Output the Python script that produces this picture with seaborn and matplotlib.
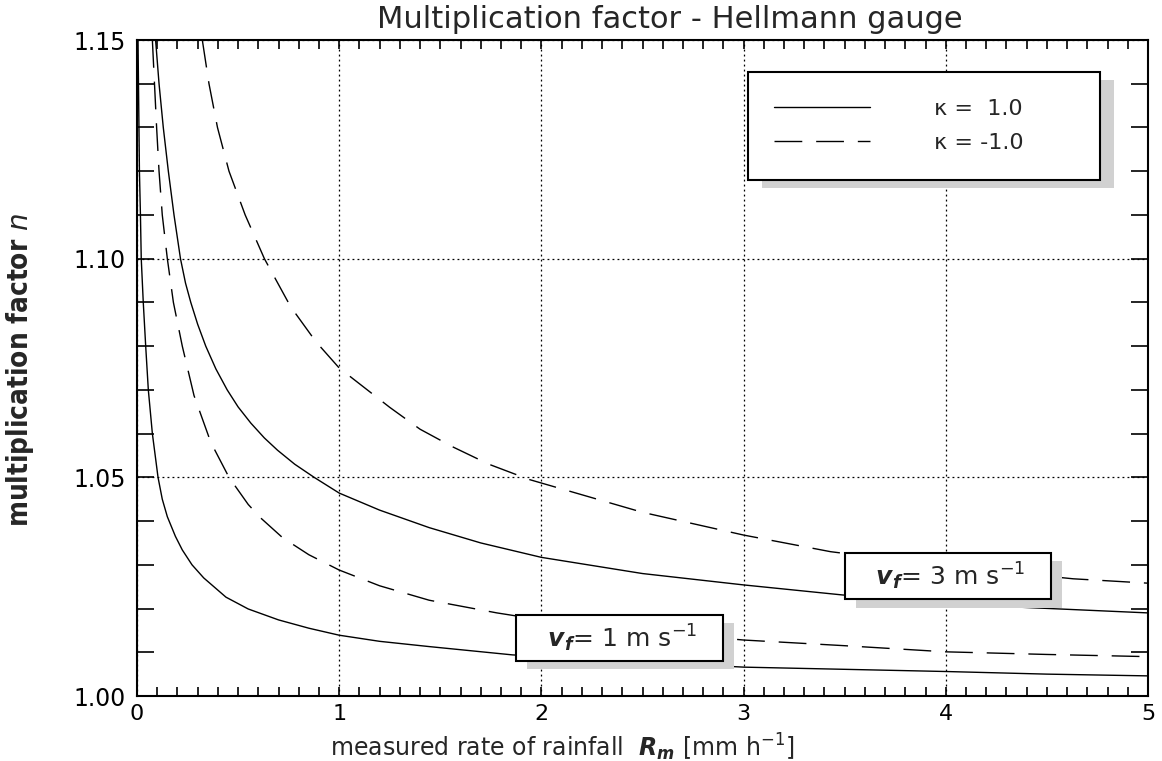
import pandas as pd
import matplotlib
matplotlib.use("Agg")
import matplotlib.pyplot as plt
import matplotlib.patheffects as pe
from matplotlib.lines import Line2D
from matplotlib.ticker import MultipleLocator, FormatStrFormatter
import seaborn as sns

# values: measured rainfall rate R_m [mm/h] vs multiplication factor n
# wind 1 m/s, kappa = 1.0 (solid)
r_v1_k1 = [0.005, 0.012, 0.017, 0.021, 0.031, 0.043, 0.056, 0.076, 0.104, 0.125, 0.15, 0.19,
           0.224, 0.272, 0.33, 0.44, 0.55, 0.70, 0.85, 1.0, 1.2, 1.445, 1.857, 2.5, 3.0,
           3.5, 4.0, 4.5, 5.0]
n_v1_k1 = [1.15, 1.12, 1.11, 1.10, 1.09, 1.08, 1.07, 1.06, 1.05, 1.045, 1.041, 1.0365,
           1.0334, 1.030, 1.027, 1.0226, 1.0199, 1.0174, 1.0155, 1.0139, 1.0125, 1.0113, 1.0094, 1.0078, 1.0066,
           1.0061, 1.0056, 1.0050, 1.0046]
# wind 1 m/s, kappa = -1.0 (dashed)
r_v1_km = [0.076, 0.097, 0.109, 0.125, 0.15, 0.18, 0.224, 0.282, 0.365, 0.455, 0.55, 0.612,
           0.72, 0.85, 1.0, 1.2, 1.445, 1.78, 2.0, 2.5, 3.0, 3.5, 4.0, 4.5, 5.0]
n_v1_km = [1.15, 1.13, 1.12, 1.11, 1.10, 1.09, 1.08, 1.0687, 1.058, 1.05, 1.0438, 1.0407,
           1.0362, 1.0323, 1.0288, 1.0252, 1.0219, 1.019, 1.0174, 1.0148, 1.0128, 1.0115, 1.0101, 1.0095, 1.009]
# wind 3 m/s, kappa = 1.0 (solid)
r_v3_k1 = [0.092, 0.109, 0.13, 0.155, 0.183, 0.215, 0.24, 0.266, 0.30, 0.34, 0.39, 0.446,
           0.50, 0.563, 0.63, 0.695, 0.78, 0.876, 1.0, 1.2, 1.445, 1.7, 2.0, 2.5, 3.0,
           3.49, 4.0, 4.32, 5.0]
n_v3_k1 = [1.15, 1.14, 1.13, 1.12, 1.11, 1.10, 1.0944, 1.09, 1.085, 1.08, 1.0748, 1.07,
           1.0661, 1.0624, 1.059, 1.0562, 1.053, 1.05, 1.0464, 1.0425, 1.0385, 1.035, 1.0317, 1.028, 1.0254,
           1.0231, 1.0214, 1.0204, 1.019]
# wind 3 m/s, kappa = -1.0 (dashed)
r_v3_km = [0.323, 0.356, 0.398, 0.455, 0.535, 0.63, 0.76, 0.885, 1.0, 1.25, 1.40, 1.56,
           1.74, 1.94, 2.5, 3.0, 3.43, 4.0, 4.63, 5.0]
n_v3_km = [1.15, 1.14, 1.13, 1.12, 1.11, 1.10, 1.089, 1.081, 1.075, 1.066, 1.061, 1.057,
           1.053, 1.0495, 1.042, 1.0368, 1.033, 1.0297, 1.0268, 1.0258]

kappa_labels = ['κ =  1.0', 'κ = -1.0']

sns.set_style("ticks")
plt.rcParams['font.family'] = ['DejaVu Sans']

parts = []
for v, k, xs, ys in [(1, '1.0', r_v1_k1, n_v1_k1), (1, '-1.0', r_v1_km, n_v1_km),
                     (3, '1.0', r_v3_k1, n_v3_k1), (3, '-1.0', r_v3_km, n_v3_km)]:
    parts.append(pd.DataFrame({'R': xs, 'n': ys, 'v': v, 'kappa': k}))
df = pd.concat(parts, ignore_index=True)

dash_pat = (20, 10)

fig = plt.figure(figsize=(11.62, 7.61), dpi=100)
ax = fig.add_axes([137/1162, 1 - 696/761, 1011/1162, 656/761])

sns.lineplot(data=df, x='R', y='n', style='kappa', units='v', estimator=None, sort=False,
             color='black', linewidth=1.0, dashes={'1.0': '', '-1.0': dash_pat},
             legend=False, ax=ax)

ax.set_xlim(0, 5)
ax.set_ylim(1.0, 1.15)
ax.xaxis.set_major_locator(MultipleLocator(1))
ax.xaxis.set_minor_locator(MultipleLocator(0.1))
ax.yaxis.set_major_locator(MultipleLocator(0.05))
ax.yaxis.set_minor_locator(MultipleLocator(0.01))
ax.yaxis.set_major_formatter(FormatStrFormatter('%.2f'))
ax.tick_params(which='both', direction='in', top=True, right=True, colors='black', width=1.2)
ax.tick_params(axis='y', which='both', length=12, pad=8, labelsize=17)
ax.tick_params(axis='x', which='both', length=6.5, pad=6, labelsize=16)
ax.grid(True, which='major', color='black', linestyle=(0, (1.5, 2.5)), linewidth=0.9)
for s in ax.spines.values():
    s.set_linewidth(1.5)
    s.set_color('black')
ax.set_xlabel('')
ax.set_ylabel('')

fig.text(670/1162, 1 - 19/761, 'Multiplication factor - Hellmann gauge',
         ha='center', va='center', fontsize=22)
fig.text(562/1162, 1 - 747/761, r'measured rate of rainfall  $\mathbfit{R_m}$ [mm h$^{-1}$]',
         ha='center', va='center', fontsize=17)
fig.text(20/1162, 1 - 370/761, 'multiplication factor $n$', rotation=90,
         ha='center', va='center', fontsize=20, fontweight='bold', fontstretch='condensed')

# legend with a grey drop shadow
handles = [Line2D([], [], color='black', lw=1.0),
           Line2D([], [], color='black', lw=1.0, dashes=dash_pat)]
leg = ax.legend(handles, [lab + ' ' * 7 for lab in kappa_labels],
                loc='upper left', bbox_to_anchor=(0.604, 0.951), borderaxespad=0,
                frameon=True, fancybox=False, edgecolor='black', framealpha=1,
                fontsize=16, handlelength=4.3, handletextpad=2.9, borderpad=1.2,
                labelspacing=0.65)
leg.get_frame().set_linewidth(1.5)
leg.get_frame().set_path_effects([pe.SimplePatchShadow(offset=(10, -6), shadow_rgbFace='0.82', alpha=1),
                                  pe.Normal()])

# wind speed labels
for xpos, ypos, txt in [(2.386, 1.0133, r'   $\mathbfit{v_f}$= 1 m s$^{-1}$   '),
                        (4.01, 1.0274, r'   $\mathbfit{v_f}$= 3 m s$^{-1}$   ')]:
    t = ax.text(xpos, ypos, txt, ha='center', va='center', fontsize=18, zorder=5,
                bbox=dict(boxstyle='square,pad=0.3', fc='white', ec='black', lw=1.5))
    t.get_bbox_patch().set_path_effects([pe.SimplePatchShadow(offset=(8, -6), shadow_rgbFace='0.82', alpha=1),
                                         pe.Normal()])

fig.savefig('out.png', dpi=100)
